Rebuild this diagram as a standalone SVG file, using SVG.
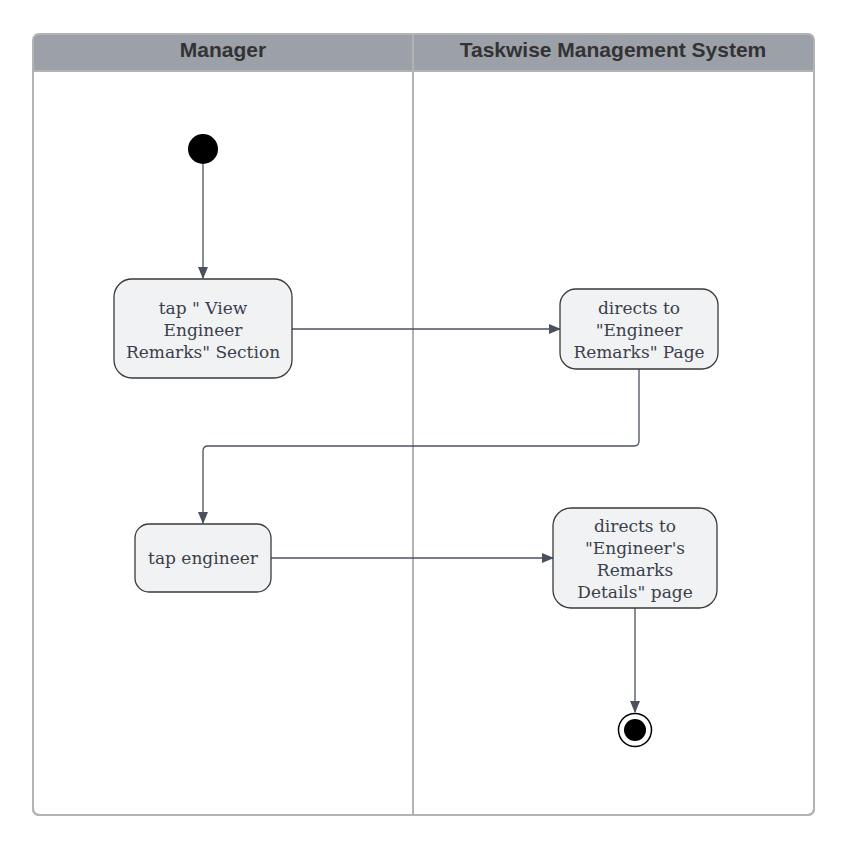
<svg xmlns="http://www.w3.org/2000/svg" width="849" height="850" viewBox="0 0 849 850">
<style>
.hdr{fill:#9ba0a9}
.ht{font-family:"Liberation Sans",Arial,sans-serif;font-weight:bold;font-size:21px;fill:#333333;text-anchor:middle}
.node rect{fill:#f1f2f4;stroke:#3a3a3a;stroke-width:1.3}
.node text{font-family:"DejaVu Serif","Liberation Serif",serif;font-size:17px;fill:#3a3f4a;text-anchor:middle}
.conn path{fill:none;stroke:#4a5060;stroke-width:1.3}
</style>
<defs>
<marker id="ah" markerWidth="12" markerHeight="10" refX="11" refY="5" orient="auto" markerUnits="userSpaceOnUse">
<path d="M0,0 L12,5 L0,10 Z" fill="#4a5060"/>
</marker>
</defs>
<g id="pool">
<path class="hdr" d="M39,34 H808 A6,6 0 0 1 814,40 V71 H33 V40 A6,6 0 0 1 39,34 Z"/>
<path d="M33,71 H814 V809 A6,6 0 0 1 808,815 H39 A6,6 0 0 1 33,809 Z" fill="#ffffff" stroke="#b3b3b3" stroke-width="2"/>
<path d="M39,34 H808 A6,6 0 0 1 814,40 V809 A6,6 0 0 1 808,815 H39 A6,6 0 0 1 33,809 V40 A6,6 0 0 1 39,34 Z" fill="none" stroke="#b3b3b3" stroke-width="2"/>
<line x1="413" y1="34" x2="413" y2="815" stroke="#b3b3b3" stroke-width="2"/>
<text class="ht" x="223" y="57">Manager</text>
<text class="ht" x="613" y="57">Taskwise Management System</text>
</g>
<g class="conn" id="connectors">
<path d="M203,164 V278" marker-end="url(#ah)"/>
<path d="M292,329 H560" marker-end="url(#ah)"/>
<path d="M639,369 V441 Q639,446 634,446 H208 Q203,446 203,451 V523" marker-end="url(#ah)"/>
<path d="M271,558 H553" marker-end="url(#ah)"/>
<path d="M635,608 V712" marker-end="url(#ah)"/>
</g>
<g id="start"><circle cx="203" cy="149" r="15" fill="#000000"/></g>
<g id="n1" class="node">
<rect x="114" y="279" width="178" height="99" rx="18"/>
<text x="203" y="314">tap " View</text>
<text x="203" y="336">Engineer</text>
<text x="203" y="358">Remarks" Section</text>
</g>
<g id="n2" class="node">
<rect x="560" y="289" width="158" height="80" rx="16"/>
<text x="639" y="314">directs to</text>
<text x="639" y="336">"Engineer</text>
<text x="639" y="358">Remarks" Page</text>
</g>
<g id="n3" class="node">
<rect x="135" y="524" width="136" height="68" rx="14"/>
<text x="203" y="564">tap engineer</text>
</g>
<g id="n4" class="node">
<rect x="553" y="508" width="164" height="100" rx="18"/>
<text x="635" y="532">directs to</text>
<text x="635" y="554">"Engineer's</text>
<text x="635" y="576">Remarks</text>
<text x="635" y="598">Details" page</text>
</g>
<g id="end">
<circle cx="635" cy="730" r="16.5" fill="#ffffff" stroke="#000000" stroke-width="1.5"/>
<circle cx="635" cy="730" r="11" fill="#000000"/>
</g>
</svg>
